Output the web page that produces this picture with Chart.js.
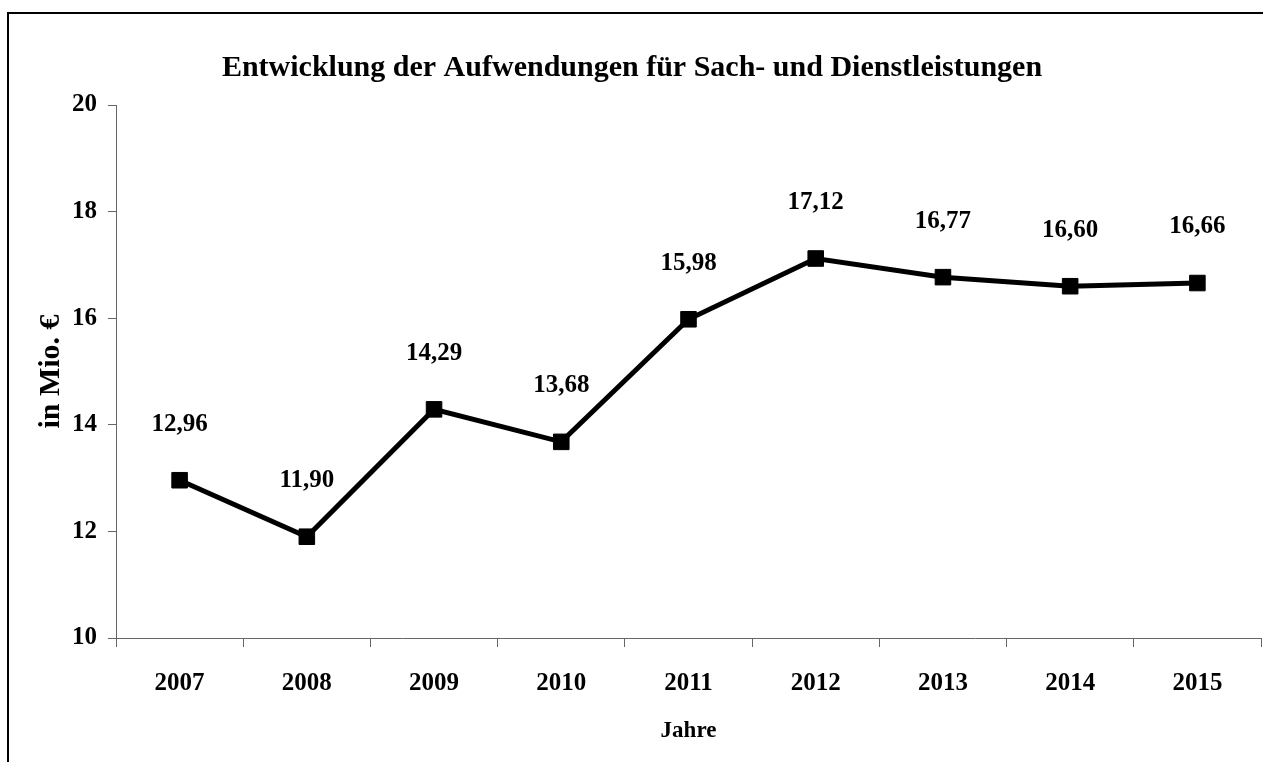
<!DOCTYPE html>
<html>
<head>
<meta charset="utf-8">
<script src="https://cdn.jsdelivr.net/npm/chart.js@4/dist/chart.umd.min.js"></script>
<style>
html,body{margin:0;padding:0;background:#fff;}
#wrap{width:1263px;height:762px;position:relative;}
</style>
</head>
<body>
<div id="wrap"><canvas id="c" width="1263" height="762"></canvas></div>
<script>
const titleText = 'Entwicklung der Aufwendungen für Sach- und Dienstleistungen';
const years = ['2007','2008','2009','2010','2011','2012','2013','2014','2015'];
const values = [12.96, 11.90, 14.29, 13.68, 15.98, 17.12, 16.77, 16.60, 16.66];
const yMin = 10, yMax = 20, yStep = 2;
const xTitle = 'Jahre';
const yTitle = 'in Mio. €';

const FONT = '"Liberation Serif", "Times New Roman", serif';

const framePlugin = {
  id: 'frame',
  beforeDraw(chart) {
    const ctx = chart.ctx;
    ctx.save();
    ctx.fillStyle = '#fff';
    ctx.fillRect(0, 0, chart.width, chart.height);
    ctx.strokeStyle = '#000';
    ctx.lineWidth = 2;
    ctx.beginPath();
    ctx.moveTo(8, chart.height);
    ctx.lineTo(8, 13);
    ctx.lineTo(chart.width, 13);
    ctx.stroke();
    ctx.fillStyle = '#000';
    ctx.font = 'bold 30px ' + FONT;
    ctx.textAlign = 'center';
    ctx.textBaseline = 'alphabetic';
    ctx.fillText(titleText, 632, 76);
    ctx.restore();
  },
  afterDatasetsDraw(chart) {
    const ctx = chart.ctx;
    const meta = chart.getDatasetMeta(0);
    ctx.save();
    ctx.fillStyle = '#000';
    ctx.font = 'bold 25px ' + FONT;
    ctx.textAlign = 'center';
    ctx.textBaseline = 'middle';
    meta.data.forEach((pt, i) => {
      const v = chart.data.datasets[0].data[i];
      ctx.fillText(v.toFixed(2).replace('.', ','), pt.x, pt.y - 56);
    });
    ctx.restore();
  }
};

new Chart(document.getElementById('c'), {
  type: 'line',
  data: {
    labels: years,
    datasets: [{
      data: values,
      borderColor: '#000',
      borderWidth: 5,
      pointStyle: 'rect',
      pointRadius: 11,
      pointBackgroundColor: '#000',
      pointBorderColor: '#000',
      pointBorderWidth: 1,
      tension: 0,
      fill: false
    }]
  },
  options: {
    responsive: false,
    animation: false,
    events: [],
    layout: { autoPadding: false, padding: { top: 105, left: 0, right: 2, bottom: 0 } },
    plugins: { legend: { display: false }, tooltip: { enabled: false }, title: { display: false } },
    scales: {
      x: {
        type: 'category',
        offset: true,
        grid: { offset: true, drawOnChartArea: false, drawTicks: true, tickLength: 9, color: '#666', lineWidth: 1 },
        border: { display: true, color: '#666', width: 1 },
        ticks: { color: '#000', font: { family: FONT, size: 25, weight: 'bold' }, padding: 22, maxRotation: 0, autoSkip: false },
        title: { display: true, text: xTitle, color: '#000', font: { family: FONT, size: 23, weight: 'bold' }, padding: { top: 0, bottom: 17 } },
        afterFit(scale) { scale.height = 124; }
      },
      y: {
        min: yMin,
        max: yMax,
        ticks: { stepSize: yStep, color: '#000', font: { family: FONT, size: 25, weight: 'bold' }, padding: 11 },
        grid: { drawOnChartArea: false, drawTicks: true, tickLength: 8, color: '#666', lineWidth: 1 },
        border: { display: true, color: '#666', width: 1 },
        title: { display: true, text: yTitle, color: '#000', font: { family: FONT, size: 30, weight: 'bold' }, padding: { top: 33, bottom: 0 } },
        afterFit(scale) { scale.width = 116; }
      }
    }
  },
  plugins: [framePlugin]
});
</script>
</body>
</html>
